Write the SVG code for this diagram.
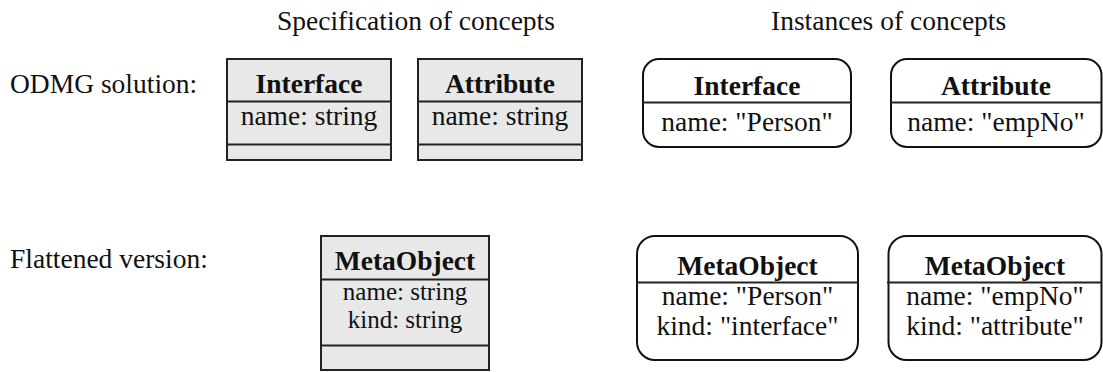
<svg xmlns="http://www.w3.org/2000/svg" width="1103" height="372" viewBox="0 0 1103 372">
  <style>
    text { font-family: "Liberation Serif", "Times New Roman", serif; font-size: 27.5px; fill: #111; }
    .c { text-anchor: middle; }
    .b { font-weight: bold; }
    .tight { font-size: 25px; }
    .cls { fill: #e8e8e8; stroke: #222; stroke-width: 2; }
    .sep { stroke: #222; stroke-width: 2; fill: none; }
    .obj { fill: #fff; stroke: #111; stroke-width: 2; }
  </style>

  <!-- column and row captions -->
  <g id="captions">
    <text x="277" y="30">Specification of concepts</text>
    <text x="771" y="30">Instances of concepts</text>
    <text x="10" y="93">ODMG solution:</text>
    <text x="10" y="268">Flattened version:</text>
  </g>

  <!-- class boxes -->
  <g id="class-interface">
    <rect class="cls" x="227" y="59" width="164" height="101"/>
    <line class="sep" x1="227" y1="101.5" x2="391" y2="101.5"/>
    <line class="sep" x1="227" y1="144.5" x2="391" y2="144.5"/>
    <text class="c b" x="309" y="93">Interface</text>
    <text class="c" x="309" y="125">name: string</text>
  </g>

  <g id="class-attribute">
    <rect class="cls" x="418" y="59" width="164" height="101"/>
    <line class="sep" x1="418" y1="101.5" x2="582" y2="101.5"/>
    <line class="sep" x1="418" y1="144.5" x2="582" y2="144.5"/>
    <text class="c b" x="500" y="93">Attribute</text>
    <text class="c" x="500" y="125">name: string</text>
  </g>

  <g id="class-metaobject">
    <rect class="cls" x="321" y="236" width="168" height="134"/>
    <line class="sep" x1="321" y1="279.5" x2="489" y2="279.5"/>
    <line class="sep" x1="321" y1="345.5" x2="489" y2="345.5"/>
    <text class="c b" x="405" y="270">MetaObject</text>
    <text class="c tight" x="405" y="300">name: string</text>
    <text class="c tight" x="405" y="328">kind: string</text>
  </g>

  <!-- object instances -->
  <g id="obj-interface">
    <rect class="obj" x="643" y="59" width="208" height="88" rx="16" ry="16"/>
    <line class="sep" x1="643" y1="102.5" x2="851" y2="102.5"/>
    <text class="c b" x="747" y="95">Interface</text>
    <text class="c" x="747" y="131">name: "Person"</text>
  </g>

  <g id="obj-attribute">
    <rect class="obj" x="891" y="59" width="210.5" height="88" rx="16" ry="16"/>
    <line class="sep" x1="891" y1="102.5" x2="1101.5" y2="102.5"/>
    <text class="c b" x="996" y="95">Attribute</text>
    <text class="c" x="996" y="131">name: "empNo"</text>
  </g>

  <g id="obj-metaobject-person">
    <rect class="obj" x="637" y="236" width="221" height="124" rx="18" ry="18"/>
    <line class="sep" x1="637" y1="282.5" x2="858" y2="282.5"/>
    <text class="c b" x="747.5" y="275">MetaObject</text>
    <text class="c" x="747.5" y="305">name: "Person"</text>
    <text class="c" x="747.5" y="335">kind: "interface"</text>
  </g>

  <g id="obj-metaobject-empno">
    <rect class="obj" x="888.5" y="236" width="213" height="124" rx="18" ry="18"/>
    <line class="sep" x1="887" y1="282.5" x2="1101.5" y2="282.5"/>
    <text class="c b" x="995" y="275">MetaObject</text>
    <text class="c" x="995" y="305">name: "empNo"</text>
    <text class="c" x="995" y="335">kind: "attribute"</text>
  </g>

  <!-- no connectors in this figure -->
  <g id="connectors"/>
</svg>
